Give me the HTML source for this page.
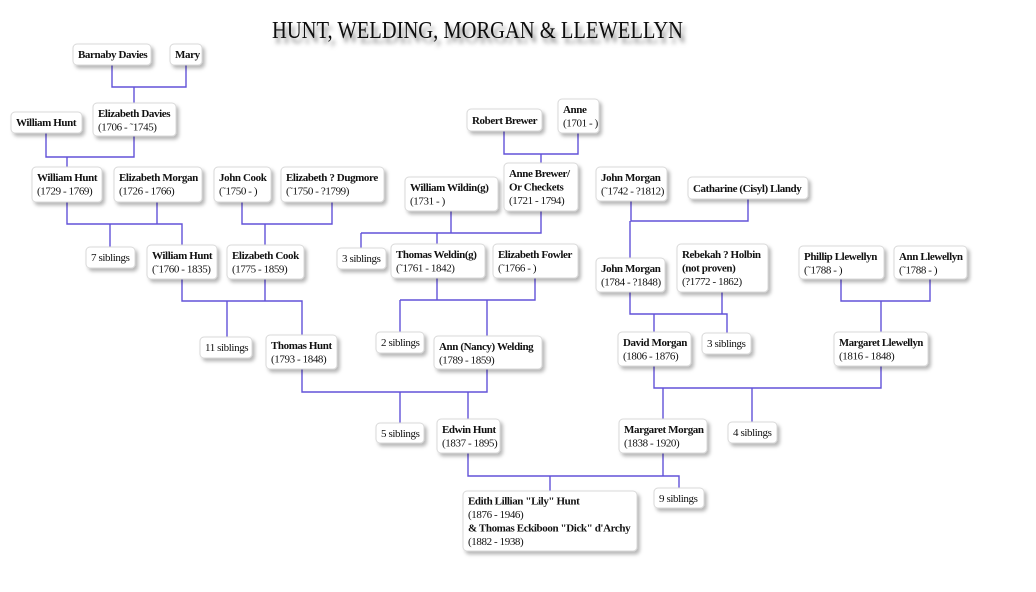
<!DOCTYPE html>
<html><head><meta charset="utf-8"><style>
html,body{margin:0;padding:0;background:#fff;}
svg{display:block;}
text{font-family:"Liberation Serif",serif;font-size:11px;letter-spacing:-0.4px;fill:#111;}
.b{font-weight:bold;}
.t{font-size:24px;letter-spacing:0;fill:#111;}
</style></head><body>
<svg width="1036" height="592" viewBox="0 0 1036 592" xmlns="http://www.w3.org/2000/svg">
<defs>
<filter id="sh" x="-20%" y="-30%" width="150%" height="180%"><feDropShadow dx="2.5" dy="3" stdDeviation="1.8" flood-color="#000" flood-opacity="0.28"/></filter>
<filter id="ts" x="-5%" y="-40%" width="115%" height="200%"><feDropShadow dx="3" dy="5" stdDeviation="2" flood-color="#000" flood-opacity="0.5"/></filter>
</defs>
<rect width="1036" height="592" fill="#fff"/>
<text class="t" x="272" y="38" textLength="411" lengthAdjust="spacingAndGlyphs" filter="url(#ts)">HUNT, WELDING, MORGAN &amp; LLEWELLYN</text>

<g fill="none" stroke="#6252d8" stroke-width="1.4">
<path d="M112 65V87H186V65M134 87V103"/>
<path d="M46 133V157H134V136M67 157V167"/>
<path d="M67 202V224H157V202M157 224H182V245M110 224V247"/>
<path d="M242 202V224H332V202M265 224V245"/>
<path d="M182 279V301H265V279M265 301H302V335M227 301V337"/>
<path d="M504 131V154H578V133M541 154V163"/>
<path d="M451 211V233H541V211M361 233H451M361 233V248M437 233V244"/>
<path d="M437 278V300H535V278M400 300H437M400 300V332M487 300V336"/>
<path d="M302 369V392H487V369M400 392V423M468 392V419"/>
<path d="M631 201V221H748V199M630 221V258"/>
<path d="M630 292V314H722V292M722 314H727V333M654 314V332"/>
<path d="M841 279V301H930V279M881 301V332"/>
<path d="M654 366V388H881V366M663 388V419M752 388V422"/>
<path d="M468 453V476H663V453M663 476H679V488M550 476V491"/>
</g>

<g fill="#fff" stroke="#d9d9d9" stroke-width="1" filter="url(#sh)">
<rect x="73" y="44" width="78" height="21" rx="4"/>
<rect x="170" y="44" width="32" height="21" rx="4"/>
<rect x="11" y="112" width="71" height="21" rx="4"/>
<rect x="93" y="103" width="83" height="33" rx="4"/>
<rect x="32" y="167" width="70" height="35" rx="4"/>
<rect x="114" y="167" width="88" height="35" rx="4"/>
<rect x="214" y="167" width="57" height="35" rx="4"/>
<rect x="281" y="167" width="103" height="35" rx="4"/>
<rect x="86" y="247" width="49" height="21" rx="4"/>
<rect x="147" y="245" width="70" height="34" rx="4"/>
<rect x="227" y="245" width="77" height="34" rx="4"/>
<rect x="200" y="337" width="52" height="21" rx="4"/>
<rect x="266" y="335" width="71" height="34" rx="4"/>
<rect x="467" y="109" width="75" height="22" rx="4"/>
<rect x="558" y="99" width="41" height="34" rx="4"/>
<rect x="504" y="163" width="74" height="48" rx="4"/>
<rect x="405" y="177" width="93" height="34" rx="4"/>
<rect x="337" y="248" width="49" height="21" rx="4"/>
<rect x="391" y="244" width="94" height="34" rx="4"/>
<rect x="493" y="244" width="85" height="34" rx="4"/>
<rect x="376" y="332" width="48" height="21" rx="4"/>
<rect x="434" y="336" width="108" height="33" rx="4"/>
<rect x="376" y="423" width="48" height="20" rx="4"/>
<rect x="437" y="419" width="63" height="34" rx="4"/>
<rect x="596" y="167" width="71" height="34" rx="4"/>
<rect x="688" y="177" width="120" height="22" rx="4"/>
<rect x="596" y="258" width="69" height="34" rx="4"/>
<rect x="677" y="244" width="91" height="48" rx="4"/>
<rect x="799" y="246" width="85" height="33" rx="4"/>
<rect x="894" y="246" width="73" height="33" rx="4"/>
<rect x="618" y="332" width="73" height="34" rx="4"/>
<rect x="702" y="333" width="49" height="21" rx="4"/>
<rect x="834" y="332" width="94" height="34" rx="4"/>
<rect x="619" y="419" width="88" height="34" rx="4"/>
<rect x="728" y="422" width="49" height="21" rx="4"/>
<rect x="463" y="491" width="174" height="60" rx="4"/>
<rect x="654" y="488" width="50" height="20" rx="4"/>
</g>

<g>
<text class="b" x="78" y="58">Barnaby Davies</text>
<text class="b" x="175" y="58">Mary</text>
<text class="b" x="16" y="126">William Hunt</text>
<text class="b" x="98" y="117">Elizabeth Davies</text><text x="98" y="130.5">(1706 - ˜1745)</text>
<text class="b" x="37" y="181">William Hunt</text><text x="37" y="194.5">(1729 - 1769)</text>
<text class="b" x="119" y="181">Elizabeth Morgan</text><text x="119" y="194.5">(1726 - 1766)</text>
<text class="b" x="219" y="181">John Cook</text><text x="219" y="194.5">(˜1750 - )</text>
<text class="b" x="286" y="181">Elizabeth ? Dugmore</text><text x="286" y="194.5">(˜1750 - ?1799)</text>
<text x="91" y="261">7 siblings</text>
<text class="b" x="152" y="259">William Hunt</text><text x="152" y="272.5">(˜1760 - 1835)</text>
<text class="b" x="232" y="259">Elizabeth Cook</text><text x="232" y="272.5">(1775 - 1859)</text>
<text x="205" y="351">11 siblings</text>
<text class="b" x="271" y="349">Thomas Hunt</text><text x="271" y="362.5">(1793 - 1848)</text>
<text class="b" x="472" y="124">Robert Brewer</text>
<text class="b" x="563" y="113">Anne</text><text x="563" y="126.5">(1701 - )</text>
<text class="b" x="509" y="177">Anne Brewer/</text><text class="b" x="509" y="190.5">Or Checkets</text><text x="509" y="204">(1721 - 1794)</text>
<text class="b" x="410" y="191">William Wildin(g)</text><text x="410" y="204.5">(1731 - )</text>
<text x="342" y="262">3 siblings</text>
<text class="b" x="396" y="258">Thomas Weldin(g)</text><text x="396" y="271.5">(˜1761 - 1842)</text>
<text class="b" x="498" y="258">Elizabeth Fowler</text><text x="498" y="271.5">(˜1766 - )</text>
<text x="381" y="346">2 siblings</text>
<text class="b" x="439" y="350">Ann (Nancy) Welding</text><text x="439" y="363.5">(1789 - 1859)</text>
<text x="381" y="437">5 siblings</text>
<text class="b" x="442" y="433">Edwin Hunt</text><text x="442" y="446.5">(1837 - 1895)</text>
<text class="b" x="601" y="181">John Morgan</text><text x="601" y="194.5">(˜1742 - ?1812)</text>
<text class="b" x="693" y="192">Catharine (Cisyl) Llandy</text>
<text class="b" x="601" y="272">John Morgan</text><text x="601" y="285.5">(1784 - ?1848)</text>
<text class="b" x="682" y="258">Rebekah ? Holbin</text><text class="b" x="682" y="271.5">(not proven)</text><text x="682" y="285">(?1772 - 1862)</text>
<text class="b" x="804" y="260">Phillip Llewellyn</text><text x="804" y="273.5">(˜1788 - )</text>
<text class="b" x="899" y="260">Ann Llewellyn</text><text x="899" y="273.5">(˜1788 - )</text>
<text class="b" x="623" y="346">David Morgan</text><text x="623" y="359.5">(1806 - 1876)</text>
<text x="707" y="347">3 siblings</text>
<text class="b" x="839" y="346" textLength="84" lengthAdjust="spacingAndGlyphs">Margaret Llewellyn</text><text x="839" y="359.5">(1816 - 1848)</text>
<text class="b" x="624" y="433">Margaret Morgan</text><text x="624" y="446.5">(1838 - 1920)</text>
<text x="733" y="436">4 siblings</text>
<text class="b" x="468" y="504.5">Edith Lillian "Lily" Hunt</text>
<text x="468" y="518">(1876 - 1946)</text>
<text class="b" x="468" y="531.5">&amp; Thomas Eckiboon "Dick" d'Archy</text>
<text x="468" y="545">(1882 - 1938)</text>
<text x="659" y="502">9 siblings</text>
</g>
</svg>
</body></html>
